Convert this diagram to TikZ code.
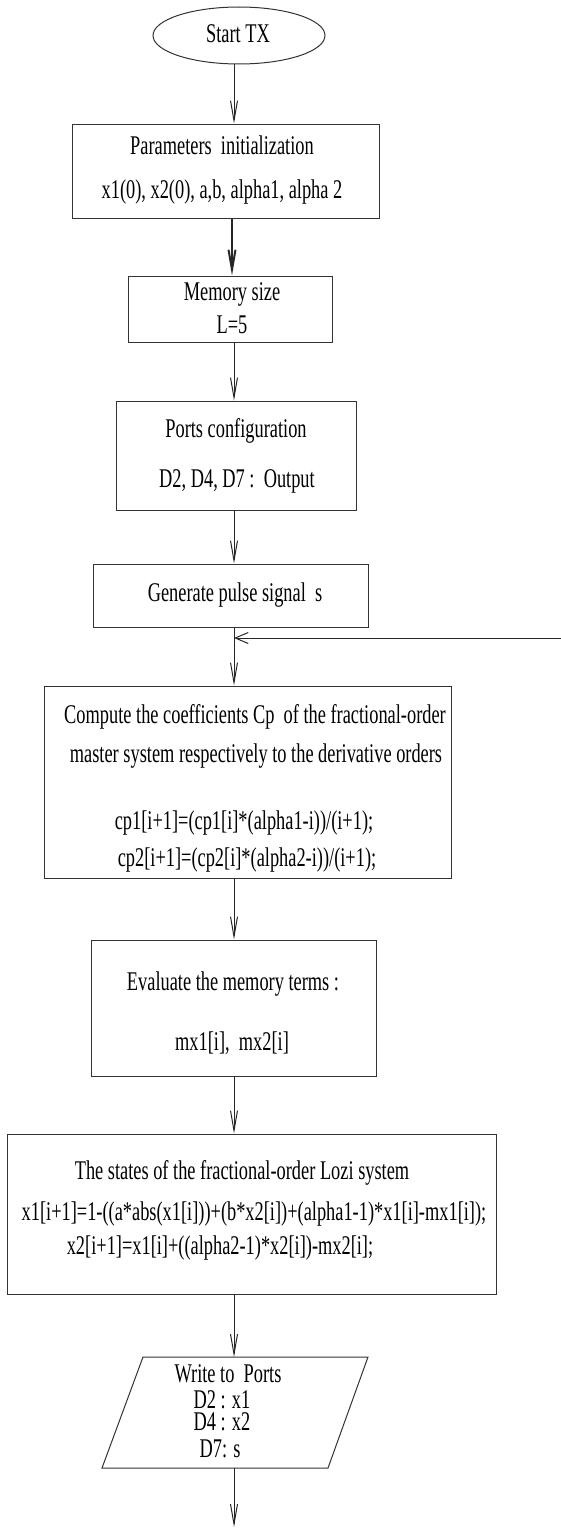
\documentclass[tikz,border=0pt]{standalone}
\usepackage{fontspec}
\setmainfont[FakeStretch=0.68]{Liberation Serif}
\usetikzlibrary{arrows.meta,shapes.geometric}

\begin{document}
\begin{tikzpicture}[x=1pt,y=-1pt,
  flow/.style={draw=black!80, line width=1pt},
  box/.style={flow, rectangle, inner sep=0pt},
  lbl/.style={anchor=base, inner sep=0pt, font=\fontsize{27}{30}\selectfont},
  arr/.style={draw=black!85, line width=1pt, -{Straight Barb[length=20pt,width=7pt]}},
]
\useasboundingbox (0,0) rectangle (561,1528);

% vertical axis of the flow
\coordinate (axis) at (234,0);
\coordinate (axisb) at (232,0);

% start terminal
\node[flow, ellipse, minimum width=172pt, minimum height=57pt, inner sep=0pt] (start) at (239,35.5) {};
\node[lbl] (tstart) at (238,43) {Start TX};

% process boxes
\node[box, minimum width=307pt, minimum height=94pt]  (init)  at (225.5,171) {};
\node[box, minimum width=204pt, minimum height=66pt]  (mem)   at (230,309) {};
\node[box, minimum width=240pt, minimum height=109pt] (ports) at (236,455.5) {};
\node[box, minimum width=275pt, minimum height=63pt]  (pulse) at (230.5,595.5) {};
\node[box, minimum width=407pt, minimum height=192pt] (coef)  at (247.5,782) {};
\node[box, minimum width=285pt, minimum height=136pt] (mterm) at (233.5,1008) {};
\node[box, minimum width=489pt, minimum height=160pt] (lozi)  at (251.5,1214) {};

% output parallelogram
\coordinate (p1) at (143,1357);
\coordinate (p2) at (368,1357);
\coordinate (p3) at (328,1468);
\coordinate (p4) at (102,1468);
\draw[flow] (p1) -- (p2) -- (p3) -- (p4) -- cycle;
\coordinate (outtop) at (234,1357);
\coordinate (outbot) at (234,1468);
\coordinate (finish) at (234,1527);

% labels
\node[lbl] (t1a) at (222,154) {Parameters\ \ initialization};
\node[lbl] (t1b) at (222,198) {x1(0), x2(0), a,b, alpha1, alpha 2};
\node[lbl] (t2a) at (232,300) {Memory size};
\node[lbl] (t2b) at (232,333) {L=5};
\node[lbl] (t3a) at (236,437) {Ports configuration};
\node[lbl] (t3b) at (237,487) {D2, D4, D7 :\ \ Output};
\node[lbl] (t4)  at (235,601) {Generate pulse signal\ \ s};
\node[lbl] (t5a) at (255,723) {Compute the coefficients Cp\ \ of the fractional-order};
\node[lbl] (t5b) at (256,762) {master system respectively to the derivative orders};
\node[lbl] (t5c) at (244,829) {cp1[i+1]=(cp1[i]*(alpha1-i))/(i+1);};
\node[lbl] (t5d) at (247,866) {cp2[i+1]=(cp2[i]*(alpha2-i))/(i+1);};
\node[lbl] (t6a) at (233,990) {Evaluate the memory terms :};
\node[lbl] (t6b) at (232,1050) {mx1[i],\ \ mx2[i]};
\node[lbl] (t7a) at (242,1179) {The states of the fractional-order Lozi system};
\node[lbl] (t7b) at (254,1220) {x1[i+1]=1-((a*abs(x1[i]))+(b*x2[i])+(alpha1-1)*x1[i]-mx1[i]);};
\node[lbl] (t7c) at (220,1254) {x2[i+1]=x1[i]+((alpha2-1)*x2[i])-mx2[i];};
\node[lbl] (t8a) at (228,1382) {Write to\ \ Ports};
\node[lbl] (t8b) at (222,1408) {D2 : x1};
\node[lbl] (t8c) at (222,1430) {D4 : x2};
\node[lbl] (t8d) at (220,1457) {D7: s};

% connectors
\draw[arr] (start.south -| axis) -- (init.north -| axis);
\draw[arr, line width=2pt] (init.south -| axisb) -- (mem.north -| axisb);
\draw[arr] (mem.south -| axis) -- (ports.north -| axis);
\draw[arr] (ports.south -| axis) -- (pulse.north -| axis);
\draw[arr] (pulse.south -| axis) -- (coef.north -| axis);
\draw[arr] (coef.south -| axis) -- (mterm.north -| axis);
\draw[arr] (mterm.south -| axis) -- (lozi.north -| axis);
\draw[arr] (lozi.south -| axis) -- (outtop);
\draw[arr] (outbot) -- (finish);

% loop-back entry
\coordinate (loop) at (561,638);
\draw[arr, -{Straight Barb[length=13pt,width=11pt]}] (loop) -- (loop -| axis);
\end{tikzpicture}
\end{document}
